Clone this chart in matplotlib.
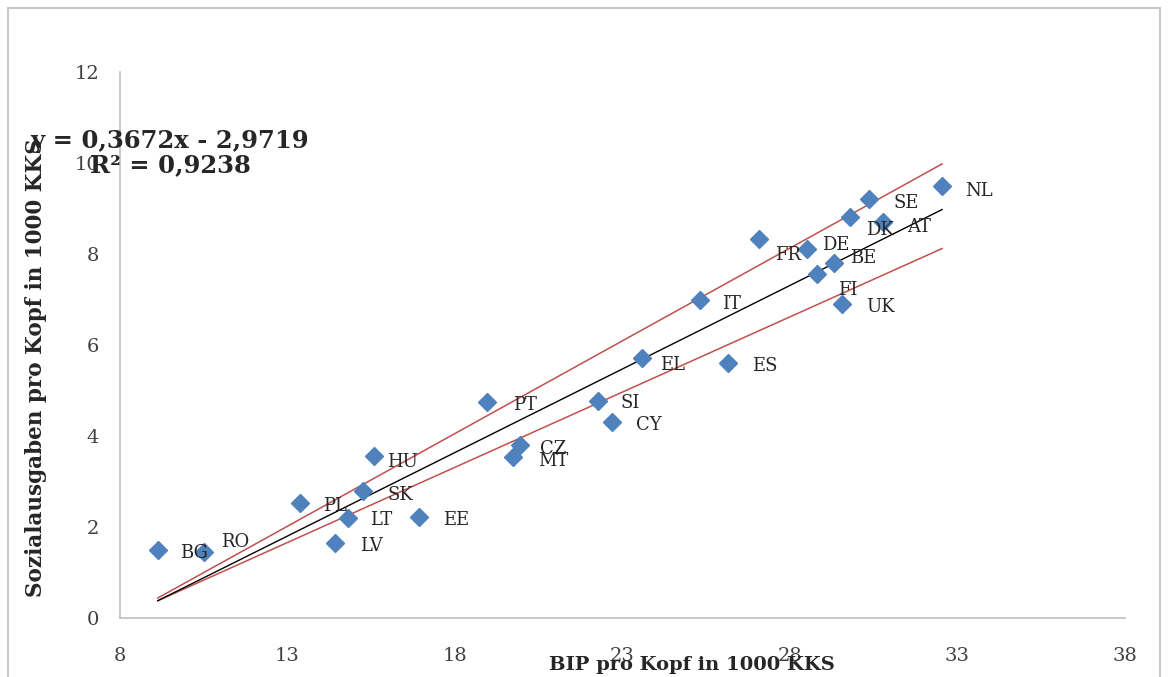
import matplotlib.pyplot as plt
from matplotlib.patches import Rectangle
import numpy as np

# Werte (BIP / Sozialausgaben pro Kopf in 1000 KKS)
countries = ['BG', 'RO', 'PL', 'SK', 'HU', 'LT', 'LV', 'EE', 'PT', 'CZ', 'MT', 'SI', 'CY',
             'EL', 'ES', 'IT', 'FR', 'DE', 'BE', 'FI', 'UK', 'DK', 'SE', 'AT', 'NL']
bip = [9.13, 10.5, 13.37, 15.25, 15.58, 14.81, 14.42, 16.93, 18.96, 19.94, 19.73, 22.27, 22.69,
       23.58, 26.15, 25.31, 27.07, 28.51, 29.31, 28.81, 29.55, 29.79, 30.36, 30.78, 32.54]
sozial = [1.49, 1.45, 2.53, 2.79, 3.56, 2.2, 1.65, 2.22, 4.75, 3.8, 3.54, 4.77, 4.31,
          5.71, 5.6, 6.99, 8.33, 8.11, 7.8, 7.56, 6.9, 8.81, 9.21, 8.7, 9.49]

slope, intercept = 0.3672, -2.9719
line_x = [9.13, 32.54]
upper_y = [0.44, 9.98]
lower_y = [0.38, 8.12]

# Label-Versatz in Pixel (dx, dy)
offsets = {'BG': (22, -3), 'RO': (17, 10), 'PL': (23, -3), 'SK': (25, -4), 'HU': (13, -6),
           'LT': (22, -2), 'LV': (25, -3), 'EE': (24, -3), 'PT': (26, -3), 'CZ': (20, -4),
           'MT': (25, -4), 'SI': (22, -2), 'CY': (24, -3), 'EL': (18, -7), 'ES': (24, -3),
           'IT': (22, -4), 'FR': (16, -16), 'DE': (15, 4), 'BE': (16, 5), 'FI': (21, -16),
           'UK': (24, -3), 'DK': (16, -13), 'SE': (24, -4), 'AT': (24, -5), 'NL': (23, -5)}

plt.rcParams['font.family'] = ['DejaVu Serif']

fig = plt.figure(figsize=(11.68, 6.77), dpi=100)
fig.patches.append(Rectangle((8/1168, -0.01), 1152/1168, 1 - 8/677 + 0.01, transform=fig.transFigure,
                             fill=False, edgecolor='#c8c8c8', linewidth=1.5))
ax = fig.add_axes([120/1168, 59/677, 1005/1168, 546/677])

tx = np.array(line_x)
ax.plot(tx, upper_y, color='#c0504d', linewidth=1.1, zorder=2)
ax.plot(tx, lower_y, color='#c0504d', linewidth=1.1, zorder=2)
ax.plot(tx, slope*tx + intercept, color='black', linewidth=1.0, zorder=2)
ax.plot(bip, sozial, linestyle='none', marker='D', markersize=9.5, color='#4f81bd', zorder=3)

for c, x, y in zip(countries, bip, sozial):
    dx, dy = offsets[c]
    ax.annotate(c, (x, y), xytext=(dx, dy), textcoords='offset pixels', ha='left', va='center',
                fontsize=13, color='#262626', zorder=4)

ax.set_xlim(8, 38)
ax.set_ylim(0, 12)
ax.set_xticks([8, 13, 18, 23, 28, 33, 38])
ax.set_yticks([0, 2, 4, 6, 8, 10, 12])
ax.tick_params(length=0, labelsize=14, labelcolor='#404040')
ax.tick_params(axis='x', pad=21)
ax.tick_params(axis='y', pad=15)
for s in ['top', 'right']:
    ax.spines[s].set_visible(False)
for s in ['left', 'bottom']:
    ax.spines[s].set_color('#bfbfbf')
    ax.spines[s].set_linewidth(1.2)

fig.text(692/1168, 1 - 665/677, 'BIP pro Kopf in 1000 KKS', ha='center', va='center',
         fontsize=14, fontweight='bold', color='#262626')
fig.text(36/1168, 1 - 368/677, 'Sozialausgaben pro Kopf in 1000 KKS', ha='center', va='center',
         rotation=90, fontsize=15.5, fontweight='bold', color='#262626')
fig.text(170/1168, 1 - 153/677, 'y = 0,3672x - 2,9719\nR² = 0,9238', ha='center', va='center',
         multialignment='center', fontsize=17.5, fontweight='bold', color='#262626', linespacing=1.05)

fig.savefig('out.png', dpi=100)
